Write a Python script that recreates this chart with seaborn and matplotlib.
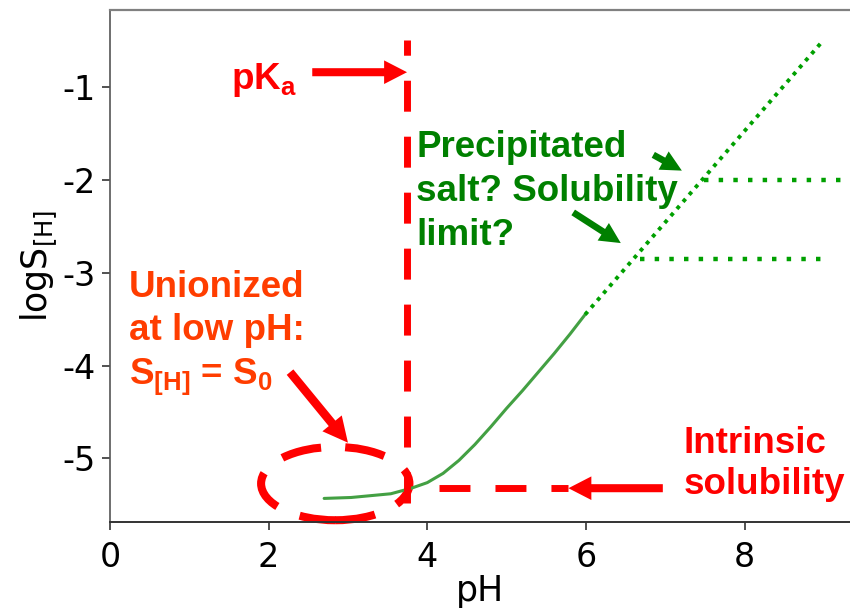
import matplotlib
matplotlib.use("Agg")
import matplotlib.pyplot as plt
from matplotlib.patches import Ellipse
import seaborn as sns
import pandas as pd

# ---------------- data ----------------
ph_curve = [2.70, 3.04, 3.54, 3.80, 4.00, 4.20, 4.40, 4.60, 4.80, 5.00, 5.20, 5.40, 5.60, 5.80, 5.99]
logs_curve = [-5.43, -5.42, -5.38, -5.32, -5.26, -5.16, -5.02, -4.85, -4.66, -4.46, -4.27,
              -4.07, -3.87, -3.66, -3.45]

ph_extrap = [5.99, 8.98]
logs_extrap = [-3.45, -0.51]

ph_salt_upper = [7.49, 9.30]
logs_salt_upper = [-2.00, -2.00]
ph_salt_lower = [6.68, 9.03]
logs_salt_lower = [-2.85, -2.85]

pka_value = 3.74
pka_line_logs = [-5.48, -0.49]
intrinsic_logs = -5.32
intrinsic_ph = [4.15, 5.78]

x_ticks = [0, 2, 4, 6, 8]
y_ticks = [-1, -2, -3, -4, -5]
x_label = "pH"
y_label = r"logS$_\mathregular{[H]}$"

# annotation geometry (data coords)
ellipse_center = (2.84, -5.27)
ellipse_size = (1.87, 0.79)
arrow_pka = ((2.55, -0.84), (3.745, -0.84))
arrow_intr = ((6.97, -5.32), (5.78, -5.32))
arrow_union = ((2.27, -4.07), (3.00, -4.83))
arrow_green1 = ((6.85, -1.73), (7.21, -1.90))
arrow_green2 = ((5.84, -2.35), (6.44, -2.68))

# ---------------- style ----------------
sns.set_style("ticks")
plt.rcParams["font.family"] = ["DejaVu Sans"]

RED = "#FF0000"
ORANGE = "#FF3D00"
DGREEN = "#008000"
CURVE = "#43A043"
DOT = "#00A000"

fig = plt.figure(figsize=(8.5, 6.12), dpi=100)
ax = fig.add_axes([110 / 850, 90 / 612, 740 / 850, 512 / 612])

curve_df = pd.DataFrame({"pH": ph_curve, "logS": logs_curve})
sns.lineplot(data=curve_df, x="pH", y="logS", ax=ax, color=CURVE, lw=2.2, sort=False,
             estimator=None)
sns.lineplot(x=ph_extrap, y=logs_extrap, ax=ax, color=DOT, lw=2.8, linestyle=(0, (1, 1.4)),
             estimator=None)
sns.lineplot(x=ph_salt_upper, y=logs_salt_upper, ax=ax, color=DOT, lw=3.2,
             linestyle=(0, (1, 2.3)), estimator=None)
sns.lineplot(x=ph_salt_lower, y=logs_salt_lower, ax=ax, color=DOT, lw=3.2,
             linestyle=(0, (1, 2.3)), estimator=None)

# pKa vertical dashed line and intrinsic solubility horizontal dashed line
ax.plot([pka_value, pka_value], pka_line_logs, color=RED, lw=5.0,
        linestyle=(0, (4.46, 3.6)), solid_capstyle="butt", clip_on=False)
ax.plot(intrinsic_ph, [intrinsic_logs, intrinsic_logs], color=RED, lw=5.0,
        linestyle=(0, (4.46, 3.6)))

# dashed ellipse
ell = Ellipse(ellipse_center, ellipse_size[0], ellipse_size[1], fill=False,
              edgecolor=RED, lw=5.8, linestyle=(0, (5.0, 3.0)), clip_on=False)
ax.add_patch(ell)


def arrow(tail, tip, color, hl, hw, tw):
    ax.annotate("", xy=tip, xytext=tail,
                arrowprops=dict(arrowstyle=f"simple,head_length={hl},head_width={hw},tail_width={tw}",
                                mutation_scale=1, color=color, lw=0, shrinkA=0, shrinkB=0),
                annotation_clip=False)


arrow(arrow_pka[0], arrow_pka[1], RED, 16.5, 17, 5.8)
arrow(arrow_intr[0], arrow_intr[1], RED, 16.5, 17, 5.8)
arrow(arrow_union[0], arrow_union[1], RED, 18, 18, 6.2)
arrow(arrow_green1[0], arrow_green1[1], DGREEN, 15, 15, 4.8)
arrow(arrow_green2[0], arrow_green2[1], DGREEN, 15, 15, 4.8)

# annotation text
tfont = dict(family="Liberation Sans", weight="bold", size=26.5)
ax.text(2.36, -1.02, r"pK$_\mathregular{a}$", color=RED, ha="right", va="baseline", **tfont)
for txt, yb in zip(["Unionized", "at low pH:", r"S$_\mathregular{[H]}$ = S$_\mathregular{0}$"],
                   [-3.26, -3.72, -4.19]):
    ax.text(0.24, yb, txt, color=ORANGE, ha="left", va="baseline", **tfont)
for txt, yb in zip(["Precipitated", "salt? Solubility", "limit?"], [-1.75, -2.23, -2.70]):
    ax.text(3.86, yb, txt, color=DGREEN, ha="left", va="baseline", **tfont)
for txt, yb in zip(["Intrinsic", "solubility"], [-4.94, -5.38]):
    ax.text(7.23, yb, txt, color=RED, ha="left", va="baseline", **tfont)

# axes
ax.set_xlim(0, 9.33)
ax.set_ylim(-5.684, -0.17)
ax.set_xticks(x_ticks)
ax.set_yticks(y_ticks)
ax.set_xticklabels([str(v) for v in x_ticks])
ax.set_yticklabels([str(v) for v in y_ticks])
ax.tick_params(axis="both", labelsize=24, length=6, width=1.2, color="#333333",
               labelcolor="black")
ax.tick_params(axis="x", pad=8)
ax.tick_params(axis="y", pad=4)
ax.set_xlabel(x_label, fontsize=25, labelpad=0, color="black")
ax.set_ylabel(y_label, fontsize=25, labelpad=2, color="black")

ax.spines["right"].set_visible(False)
ax.spines["top"].set_visible(True)
ax.spines["top"].set_color("#808080")
ax.spines["top"].set_linewidth(1.6)
ax.spines["left"].set_color("#555555")
ax.spines["left"].set_linewidth(1.2)
ax.spines["bottom"].set_color("#333333")
ax.spines["bottom"].set_linewidth(1.4)

fig.savefig("out.png", dpi=100)
